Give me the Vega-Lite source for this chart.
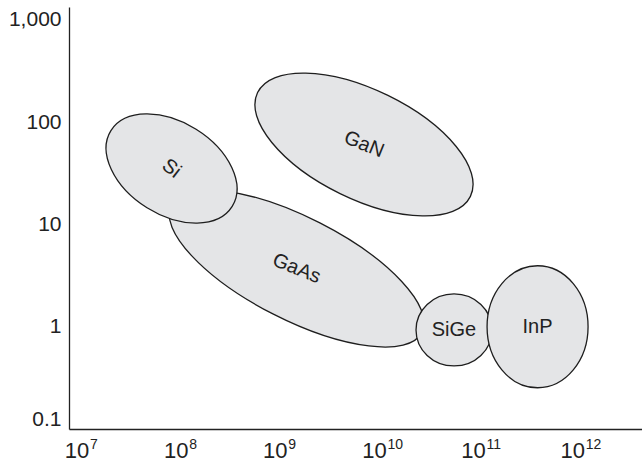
{
  "$schema": "https://vega.github.io/schema/vega-lite/v6.json",
  "autosize": "none",
  "width": 573,
  "height": 422,
  "padding": {"left": 69, "top": 7, "right": 0, "bottom": 34},
  "background": "white",
  "config": {"view": {"stroke": null}, "font": "Liberation Sans"},
  "data": {"values": [
    {"material": "GaAs", "freq": 1.66e9, "power": 3.71},
    {"material": "Si", "freq": 9.08e7, "power": 35.3},
    {"material": "GaN", "freq": 7.94e9, "power": 60.6},
    {"material": "SiGe", "freq": 6.43e10, "power": 0.93},
    {"material": "InP", "freq": 4.48e11, "power": 1.0}
  ]},
  "resolve": {"axis": {"x": "independent"}},
  "encoding": {
    "y": {"field": "power", "type": "quantitative",
      "scale": {"type": "log", "domain": [0.1, 1340], "nice": false},
      "axis": {"title": null, "values": [0.1, 1, 10, 100, 1000], "format": ",",
        "ticks": false, "grid": false, "domainColor": "#222", "domainWidth": 1.3,
        "labelFontSize": 21, "labelFont": "Liberation Sans", "labelColor": "#222",
        "labelPadding": 8, "labelFlush": 5, "labelOverlap": false}}
  },
  "layer": [
    {
      "encoding": {
        "x": {"field": "freq", "type": "quantitative",
          "scale": {"type": "log", "domain": [8.38e6, 5.07e12], "nice": false},
          "axis": {"title": null, "orient": "bottom", "values": [1e7, 1e8, 1e9, 1e10, 1e11, 1e12],
            "labelExpr": "'10'",
            "ticks": false, "grid": false, "domainColor": "#222", "domainWidth": 1.3,
            "labelFontSize": 22, "labelFont": "Liberation Sans", "labelColor": "#222",
            "labelAlign": "center", "labelBaseline": "top",
            "labelPadding": 11, "labelFlush": false, "labelOverlap": false}}
      },
      "layer": [
        {"transform": [{"filter": "datum.material === 'GaAs'"}],
         "mark": {"type": "point", "shape": "M -140.7 0 C -140.7 -28.28 -77.71 -51.2 0 -51.2 C 77.71 -51.2 140.7 -28.28 140.7 0 C 140.7 28.28 77.71 51.2 0 51.2 C -77.71 51.2 -140.7 28.28 -140.7 0 Z",
           "angle": 27, "size": 4, "filled": true, "fill": "#e4e5e7", "stroke": "#1e1e1e", "strokeWidth": 1.3, "opacity": 1}},
        {"transform": [{"filter": "datum.material === 'Si'"}],
         "mark": {"type": "point", "shape": "M -71.5 0 C -71.5 -25.57 -39.49 -46.3 0 -46.3 C 39.49 -46.3 71.5 -25.57 71.5 0 C 71.5 25.57 39.49 46.3 0 46.3 C -39.49 46.3 -71.5 25.57 -71.5 0 Z",
           "angle": 32, "size": 4, "filled": true, "fill": "#e4e5e7", "stroke": "#1e1e1e", "strokeWidth": 1.3, "opacity": 1}},
        {"transform": [{"filter": "datum.material === 'GaN'"}],
         "mark": {"type": "point", "shape": "M -118.4 0 C -118.4 -30.16 -65.39 -54.6 0 -54.6 C 65.39 -54.6 118.4 -30.16 118.4 0 C 118.4 30.16 65.39 54.6 0 54.6 C -65.39 54.6 -118.4 30.16 -118.4 0 Z",
           "angle": 26, "size": 4, "filled": true, "fill": "#e4e5e7", "stroke": "#1e1e1e", "strokeWidth": 1.3, "opacity": 1}},
        {"transform": [{"filter": "datum.material === 'SiGe'"}],
         "mark": {"type": "point", "shape": "M -38 0 C -38 -19.88 -20.99 -36 0 -36 C 20.99 -36 38 -19.88 38 0 C 38 19.88 20.99 36 0 36 C -20.99 36 -38 19.88 -38 0 Z",
           "angle": 0, "size": 4, "filled": true, "fill": "#e4e5e7", "stroke": "#1e1e1e", "strokeWidth": 1.3, "opacity": 1}},
        {"transform": [{"filter": "datum.material === 'InP'"}],
         "mark": {"type": "point", "shape": "M -50.5 0 C -50.5 -33.69 -27.89 -61 0 -61 C 27.89 -61 50.5 -33.69 50.5 0 C 50.5 33.69 27.89 61 0 61 C -27.89 61 -50.5 33.69 -50.5 0 Z",
           "angle": 0, "size": 4, "filled": true, "fill": "#e4e5e7", "stroke": "#1e1e1e", "strokeWidth": 1.3, "opacity": 1}},
        {"transform": [{"filter": "datum.material === 'GaAs' || datum.material === 'GaN'"}],
         "mark": {"type": "text", "angle": 22, "fontSize": 20, "font": "Liberation Sans", "color": "#222", "align": "center", "baseline": "middle"},
         "encoding": {"text": {"field": "material"}}},
        {"transform": [{"filter": "datum.material === 'Si'"}],
         "mark": {"type": "text", "angle": 38, "fontSize": 20, "font": "Liberation Sans", "color": "#222", "align": "center", "baseline": "middle"},
         "encoding": {"text": {"field": "material"}}}
      ]
    },
    {
      "transform": [{"filter": "datum.material === 'SiGe' || datum.material === 'InP'"}],
      "mark": {"type": "text", "angle": 0, "fontSize": 20, "font": "Liberation Sans", "color": "#222", "align": "center", "baseline": "middle"},
      "encoding": {
        "text": {"field": "material"},
        "x": {"field": "freq", "type": "quantitative",
          "scale": {"type": "log", "domain": [8.38e6, 5.07e12], "nice": false},
          "axis": {"title": null, "orient": "bottom", "values": [1e7, 1e8, 1e9, 1e10, 1e11, 1e12],
            "labelExpr": "datum.value < 5e7 ? '7' : datum.value < 5e8 ? '8' : datum.value < 5e9 ? '9' : datum.value < 5e10 ? '10' : datum.value < 5e11 ? '11' : '12'",
            "domain": false, "ticks": false, "grid": false,
            "labelFontSize": 14, "labelFont": "Liberation Sans", "labelColor": "#222",
            "labelAlign": "left", "labelBaseline": "top", "labelOffset": 13,
            "labelPadding": 8, "labelFlush": false, "labelOverlap": false}}
      }
    }
  ]
}
